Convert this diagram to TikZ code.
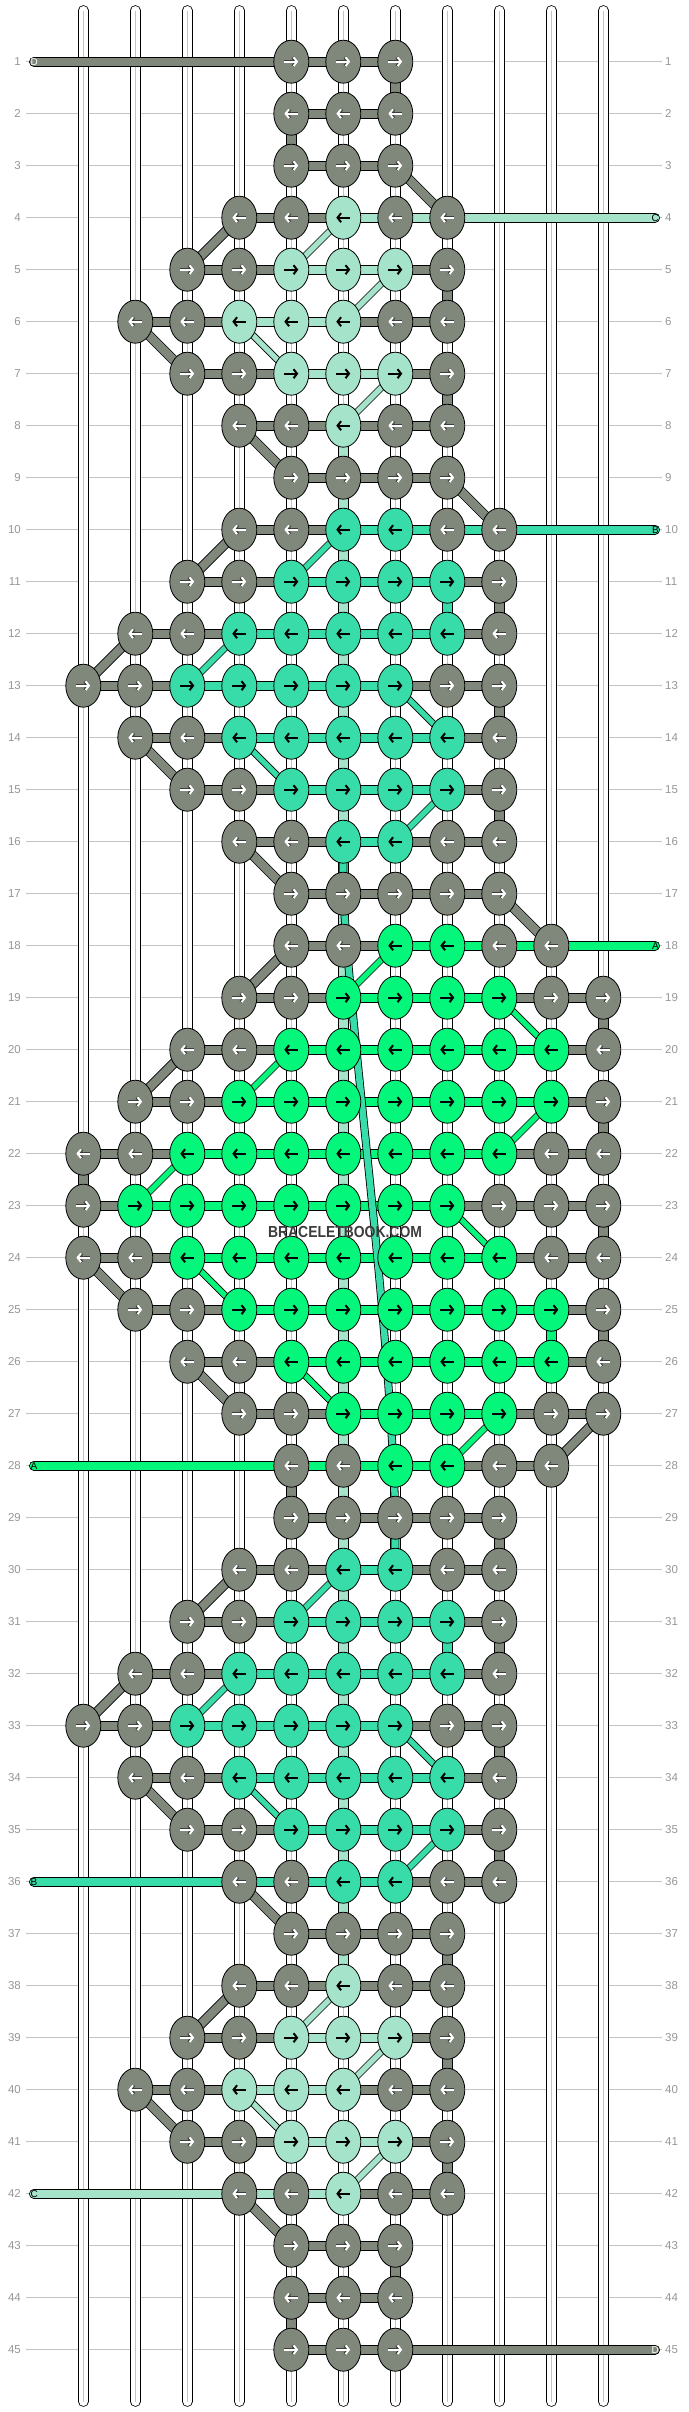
\documentclass[tikz,border=0pt]{standalone}
\usepackage{fontspec}
\setmainfont{Liberation Sans}
\usetikzlibrary{shapes.geometric,arrows.meta}

\definecolor{kg}{RGB}{128,135,123}
\definecolor{kl}{RGB}{165,227,203}
\definecolor{kt}{RGB}{56,220,168}
\definecolor{ka}{RGB}{4,247,122}
\definecolor{rowgray}{RGB}{150,150,150}
\definecolor{gridgray}{RGB}{196,196,196}
\definecolor{markgray}{RGB}{60,60,60}

\pgfdeclarelayer{back}
\pgfdeclarelayer{links}
\pgfdeclarelayer{front}
\pgfsetlayers{back,links,main,front}

% row / first column / knot colours / link colours
\def\rowdata{1/4/{g,g,g}/{g,g},
 2/4/{g,g,g}/{g,g},
 3/4/{g,g,g}/{g,g},
 4/3/{g,g,l,g,g}/{g,g,l,l},
 5/2/{g,g,l,l,l,g}/{g,g,l,l,g},
 6/1/{g,g,l,l,l,g,g}/{g,g,l,l,g,g},
 7/2/{g,g,l,l,l,g}/{g,g,l,l,g},
 8/3/{g,g,l,g,g}/{g,g,g,g},
 9/4/{g,g,g,g}/{g,g,g},
 10/3/{g,g,t,t,g,g}/{g,g,t,t,t},
 11/2/{g,g,t,t,t,t,g}/{g,g,t,t,t,g},
 12/1/{g,g,t,t,t,t,t,g}/{g,g,t,t,t,t,g},
 13/0/{g,g,t,t,t,t,t,g,g}/{g,g,t,t,t,t,g,g},
 14/1/{g,g,t,t,t,t,t,g}/{g,g,t,t,t,t,g},
 15/2/{g,g,t,t,t,t,g}/{g,g,t,t,t,g},
 16/3/{g,g,t,t,g,g}/{g,g,t,g,g},
 17/4/{g,g,g,g,g}/{g,g,g,g},
 18/4/{g,g,a,a,g,g}/{g,g,a,a,a},
 19/3/{g,g,a,a,a,a,g,g}/{g,g,a,a,a,g,g},
 20/2/{g,g,a,a,a,a,a,a,g}/{g,g,a,a,a,a,a,g},
 21/1/{g,g,a,a,a,a,a,a,a,g}/{g,g,a,a,a,a,a,a,g},
 22/0/{g,g,a,a,a,a,a,a,a,g,g}/{g,g,a,a,a,a,a,a,g,g},
 23/0/{g,a,a,a,a,a,a,a,g,g,g}/{g,a,a,a,a,a,a,g,g,g},
 24/0/{g,g,a,a,a,a,a,a,a,g,g}/{g,g,a,a,a,a,a,a,g,g},
 25/1/{g,g,a,a,a,a,a,a,a,g}/{g,g,a,a,a,a,a,a,g},
 26/2/{g,g,a,a,a,a,a,a,g}/{g,g,a,a,a,a,a,g},
 27/3/{g,g,a,a,a,a,g,g}/{g,g,a,a,a,g,g},
 28/4/{g,g,a,a,g,g}/{a,a,a,g,g},
 29/4/{g,g,g,g,g}/{g,g,g,g},
 30/3/{g,g,t,t,g,g}/{g,g,t,g,g},
 31/2/{g,g,t,t,t,t,g}/{g,g,t,t,t,g},
 32/1/{g,g,t,t,t,t,t,g}/{g,g,t,t,t,t,g},
 33/0/{g,g,t,t,t,t,t,g,g}/{g,g,t,t,t,t,g,g},
 34/1/{g,g,t,t,t,t,t,g}/{g,g,t,t,t,t,g},
 35/2/{g,g,t,t,t,t,g}/{g,g,t,t,t,g},
 36/3/{g,g,t,t,g,g}/{t,t,t,g,g},
 37/4/{g,g,g,g}/{g,g,g},
 38/3/{g,g,l,g,g}/{g,g,g,g},
 39/2/{g,g,l,l,l,g}/{g,g,l,l,g},
 40/1/{g,g,l,l,l,g,g}/{g,g,l,l,g,g},
 41/2/{g,g,l,l,l,g}/{g,g,l,l,g},
 42/3/{g,g,l,g,g}/{l,l,g,g},
 43/4/{g,g,g}/{g,g},
 44/4/{g,g,g}/{g,g},
 45/4/{g,g,g}/{g,g}}

\begin{document}
\begin{tikzpicture}[x=1pt,y=-1pt,
  knot/.style={ellipse,draw=black,line width=0.8pt,minimum width=35pt,minimum height=43pt,inner sep=0pt},
  knotarrow/.style={line width=2pt,-{Straight Barb[length=3.5pt,width=9pt]}},
  knotarrow-g/.style={white,preaction={draw=markgray,line width=3.2pt}},
  knotarrow-l/.style={black},
  knotarrow-t/.style={black},
  knotarrow-a/.style={black},
  cord/.style={draw=black,line width=0.8pt,double distance=8.4pt},
  thincord/.style={draw=black,line width=0.8pt,double distance=5.4pt},
  cord-g/.style={double=kg},
  cord-l/.style={double=kl},
  cord-t/.style={double=kt},
  cord-a/.style={double=ka},
  tube/.style={draw=black,line width=0.8pt,double=white,double distance=9pt,line cap=round},
  tubecore/.style={draw=gridgray,line width=1.2pt},
  rowno/.style={text=rowgray,font=\fontsize{11.5}{12}\selectfont,inner sep=0pt},
  endtag/.style={font=\fontsize{10}{10}\selectfont,inner sep=0pt},
  watermark/.style={font=\fontsize{16}{16}\selectfont\bfseries,text=markgray,xscale=0.87,inner sep=0pt}]
\useasboundingbox (0,0) rectangle (688,2412);

% knots
\foreach \rr/\ss/\ks/\cl in \rowdata {
  \foreach \kc [count=\ii from 0] in \ks {
    \pgfmathtruncatemacro\cc{\ss+\ii}
    \node[knot,fill=k\kc] (k-\rr-\cc) at ({83.3+52*\cc},{61.7+52*(\rr-1)}) {};
    \ifodd\rr
      \draw[knotarrow,knotarrow-\kc] ([xshift=-7pt]k-\rr-\cc.center) -- ([xshift=7pt]k-\rr-\cc.center);
    \else
      \draw[knotarrow,knotarrow-\kc] ([xshift=7pt]k-\rr-\cc.center) -- ([xshift=-7pt]k-\rr-\cc.center);
    \fi
  }
}

% grid and strands
\begin{pgfonlayer}{back}
  \foreach \rr in {1,...,45} {
    \draw[gridgray,line width=1pt] (26,{61.7+52*(\rr-1)}) -- (662,{61.7+52*(\rr-1)});
    \node[rowno,anchor=east] (rl-\rr) at (21,{61.7+52*(\rr-1)}) {\rr};
    \node[rowno,anchor=west] (rr-\rr) at (665,{61.7+52*(\rr-1)}) {\rr};
  }
  \foreach \cc in {0,...,10} {
    \draw[tube] ({83.3+52*\cc},10.5) -- ({83.3+52*\cc},2401.5);
    \draw[tubecore] ({83.3+52*\cc},10.5) -- ({83.3+52*\cc},2401.5);
  }
\end{pgfonlayer}

\begin{pgfonlayer}{links}
  % links along the rows
  \foreach \rr/\ss/\ks/\cl in \rowdata {
    \foreach \hc [count=\ii from 0] in \cl {
      \pgfmathtruncatemacro\cc{\ss+\ii}
      \pgfmathtruncatemacro\dd{\ss+\ii+1}
      \draw[cord,cord-\hc] (k-\rr-\cc.center) -- (k-\rr-\dd.center);
    }
  }
  % straight drops
  \foreach \hc/\rr/\cc in {g/1/6,g/2/4,g/5/7,g/7/7,g/11/8,g/13/8,g/15/8,g/19/10,g/21/10,
      g/22/0,g/23/10,g/25/10,g/28/4,g/29/8,g/31/8,g/33/8,g/35/8,g/37/7,g/39/7,g/41/7,
      g/43/6,g/44/4,t/11/7,t/31/7,a/25/9} {
    \pgfmathtruncatemacro\nn{\rr+1}
    \draw[cord,cord-\hc] (k-\rr-\cc.center) -- (k-\nn-\cc.center);
  }
  \draw[cord,cord-l] (k-8-5.center) -- (k-38-5.center);
  % grey turns
  \foreach \rr/\cc/\dd in {3/6/7,4/3/2,6/1/2,8/3/4,9/7/8,10/3/2,12/1/0,14/1/2,16/3/4,
      17/8/9,18/4/3,20/2/1,24/0/1,26/2/3,27/10/9,30/3/2,32/1/0,34/1/2,36/3/4,38/3/2,
      40/1/2,42/3/4} {
    \pgfmathtruncatemacro\nn{\rr+1}
    \draw[cord,cord-g] (k-\rr-\cc.center) -- (k-\nn-\dd.center);
  }
  % colour turns
  \foreach \hc/\rr/\cc/\dd in {l/4/5/4,l/5/6/5,l/6/3/4,l/7/6/5,l/38/5/4,l/39/6/5,l/40/3/4,
      l/41/6/5,t/10/5/4,t/12/3/2,t/13/6/7,t/14/3/4,t/15/7/6,t/30/5/4,t/32/3/2,t/33/6/7,
      t/34/3/4,t/35/7/6,a/18/6/5,a/19/8/9,a/20/4/3,a/21/9/8,a/22/2/1,a/23/7/8,a/24/2/3,
      a/26/4/5,a/27/8/7} {
    \pgfmathtruncatemacro\nn{\rr+1}
    \draw[thincord,cord-\hc] (k-\rr-\cc.center) -- (k-\nn-\dd.center);
  }
  % loose ends
  \coordinate (end-d1) at (34,61.7);
  \coordinate (end-c4) at (655,217.7);
  \coordinate (end-b10) at (655,529.7);
  \coordinate (end-a18) at (655,945.7);
  \coordinate (end-a28) at (34,1465.7);
  \coordinate (end-b36) at (34,1881.7);
  \coordinate (end-c42) at (34,2193.7);
  \coordinate (end-d45) at (655,2349.7);
  \draw[cord,cord-g,line cap=round] (end-d1) -- (k-1-4.center);
  \draw[cord,cord-l,line cap=round] (end-c4) -- (k-4-7.center);
  \draw[cord,cord-t,line cap=round] (end-b10) -- (k-10-8.center);
  \draw[cord,cord-a,line cap=round] (end-a18) -- (k-18-9.center);
  \draw[cord,cord-a,line cap=round] (end-a28) -- (k-28-4.center);
  \draw[cord,cord-t,line cap=round] (end-b36) -- (k-36-3.center);
  \draw[cord,cord-l,line cap=round] (end-c42) -- (k-42-3.center);
  \draw[cord,cord-g,line cap=round] (end-d45) -- (k-45-6.center);
  \node[endtag,anchor=west,text=white] (tag-d1) at (30.5,61.7) {D};
  \node[endtag,anchor=east] (tag-c4) at (659,217.7) {C};
  \node[endtag,anchor=east] (tag-b10) at (659,529.7) {B};
  \node[endtag,anchor=east] (tag-a18) at (659,945.7) {A};
  \node[endtag,anchor=west] (tag-a28) at (30.5,1465.7) {A};
  \node[endtag,anchor=west] (tag-b36) at (30.5,1881.7) {B};
  \node[endtag,anchor=west] (tag-c42) at (30.5,2193.7) {C};
  \node[endtag,anchor=east,text=white] (tag-d45) at (659,2349.7) {D};
  % teal carried behind
  \draw[cord,cord-t,double distance=6.5pt] (k-16-5.center) -- (k-17-5.center)
    .. controls +(8,150) and +(-5,-200) .. (k-29-6.center) -- (k-30-6.center);
\end{pgfonlayer}

\begin{pgfonlayer}{front}
  \node[watermark] (mark) at (345,1232) {BRACELETBOOK.COM};
\end{pgfonlayer}
\end{tikzpicture}
\end{document}
